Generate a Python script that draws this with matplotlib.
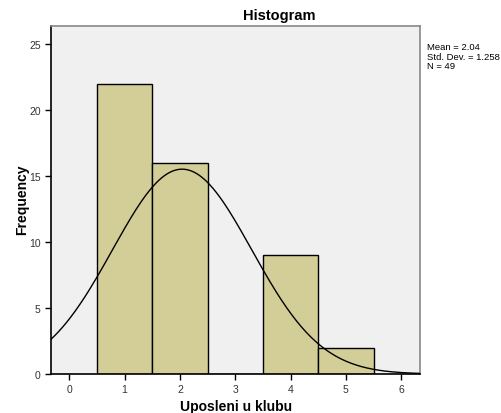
import numpy as np
import matplotlib.pyplot as plt

plt.rcParams["font.family"] = ["Liberation Sans", "DejaVu Sans"]

# histogram of "Uposleni u klubu"
bins = [1, 2, 3, 4, 5]
counts = [22, 16, 0, 9, 2]
mean = 2.04
sd = 1.258
n = 49

fig = plt.figure(figsize=(5.01, 4.14), dpi=100)
ax = fig.add_axes([51 / 501, 1 - 375 / 414, 369 / 501, 348 / 414])
ax.set_facecolor("#f0f0f0")

ax.bar(bins, counts, width=1.0, color="#d3ce98", edgecolor="black", linewidth=1.0, zorder=2)

# fitted normal curve
x = np.linspace(-0.4, 6.4, 300)
y = n * 1.0 / (sd * np.sqrt(2 * np.pi)) * np.exp(-0.5 * ((x - mean) / sd) ** 2)
ax.plot(x, y, color="black", linewidth=1.0, zorder=3)

ax.set_xlim(-0.33, 6.34)
ax.set_ylim(0, 26.4)
ax.set_xticks(range(0, 7))
ax.set_yticks(range(0, 26, 5))
ax.tick_params(labelsize=7.5, length=4, width=1, colors="black", labelcolor="#333333")

for side in ["left", "bottom"]:
    ax.spines[side].set_color("black")
    ax.spines[side].set_linewidth(1.2)
for side in ["top", "right"]:
    ax.spines[side].set_color("#888888")
    ax.spines[side].set_linewidth(1.2)

fig.text(236 / 501, 1 - 407 / 414, "Uposleni u klubu", fontsize=10, fontweight="bold",
         ha="center", va="center")
fig.text(22 / 501, 1 - 200 / 414, "Frequency", fontsize=10, fontweight="bold",
         ha="center", va="center", rotation=90)

fig.text(279 / 501, 1 - 16 / 414, "Histogram", fontsize=10.5, fontweight="bold",
         ha="center", va="center")
fig.text(427 / 501, 1 - 43 / 414, f"Mean = {mean}\nStd. Dev. = {sd}\nN = {n}",
         fontsize=6.8, ha="left", va="top", linespacing=1.1)

fig.savefig("out.png", dpi=100)
